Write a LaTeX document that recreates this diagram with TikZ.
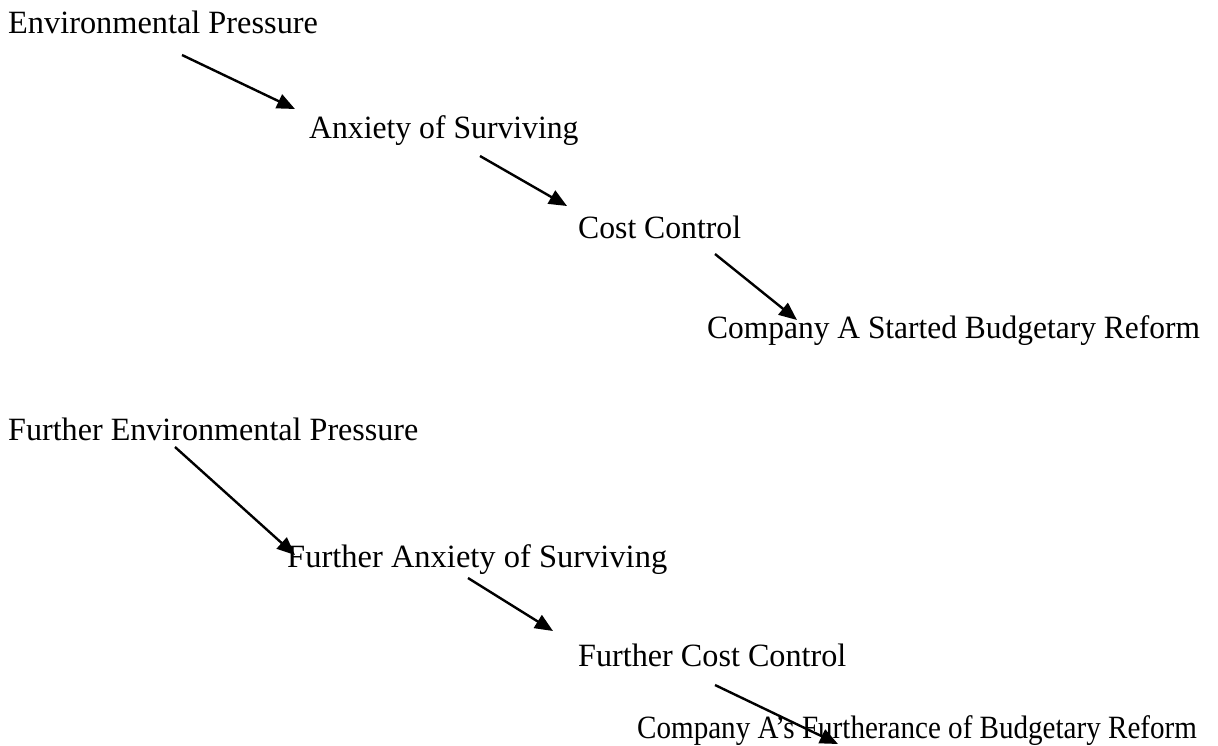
\documentclass[tikz,border=0pt]{standalone}
\usepackage{fontspec}
\setmainfont{Liberation Serif}
\usetikzlibrary{arrows.meta}
\newcommand{\hsq}[2]{\scalebox{#1}[1]{#2}}
\tikzset{
  lbl/.style={anchor=base west, inner sep=0pt, font=\fontsize{32.5}{38}\selectfont},
  arr/.style={line width=2.4pt, -{Triangle[length=18pt,width=15pt]}}
}
\begin{document}
\begin{tikzpicture}[x=1pt,y=-1pt]
\useasboundingbox (0,0) rectangle (1218,745);
\node[lbl] (ep)  at (8,33)   {\hsq{0.995}{Environmental Pressure}};
\node[lbl] (anx) at (309,138) {\hsq{0.975}{Anxiety of Surviving}};
\node[lbl] (cc)  at (578,238) {\hsq{0.975}{Cost Control}};
\node[lbl] (cas) at (707,338) {\hsq{0.968}{Company A Started Budgetary Reform}};
\node[lbl] (fep) at (8,440)  {\hsq{0.988}{Further Environmental Pressure}};
\node[lbl] (fas) at (287,567) {\hsq{1.0}{Further Anxiety of Surviving}};
\node[lbl] (fcc) at (578,666) {\hsq{0.99}{Further Cost Control}};
\node[lbl] (caf) at (637,738) {\hsq{0.895}{Company A’s Furtherance of Budgetary Reform}};
\coordinate (a1s) at (182,55);  \coordinate (a1e) at (295,109);
\coordinate (a2s) at (480,156); \coordinate (a2e) at (567,206);
\coordinate (a3s) at (715,254); \coordinate (a3e) at (797,320);
\coordinate (a4s) at (175,447); \coordinate (a4e) at (295,555);
\coordinate (a5s) at (468,578); \coordinate (a5e) at (553,631);
\coordinate (a6s) at (715,685); \coordinate (a6e) at (838,744);
\draw[arr] (a1s) -- (a1e);
\draw[arr] (a2s) -- (a2e);
\draw[arr] (a3s) -- (a3e);
\draw[arr] (a4s) -- (a4e);
\draw[arr] (a5s) -- (a5e);
\draw[arr] (a6s) -- (a6e);
\end{tikzpicture}
\end{document}
